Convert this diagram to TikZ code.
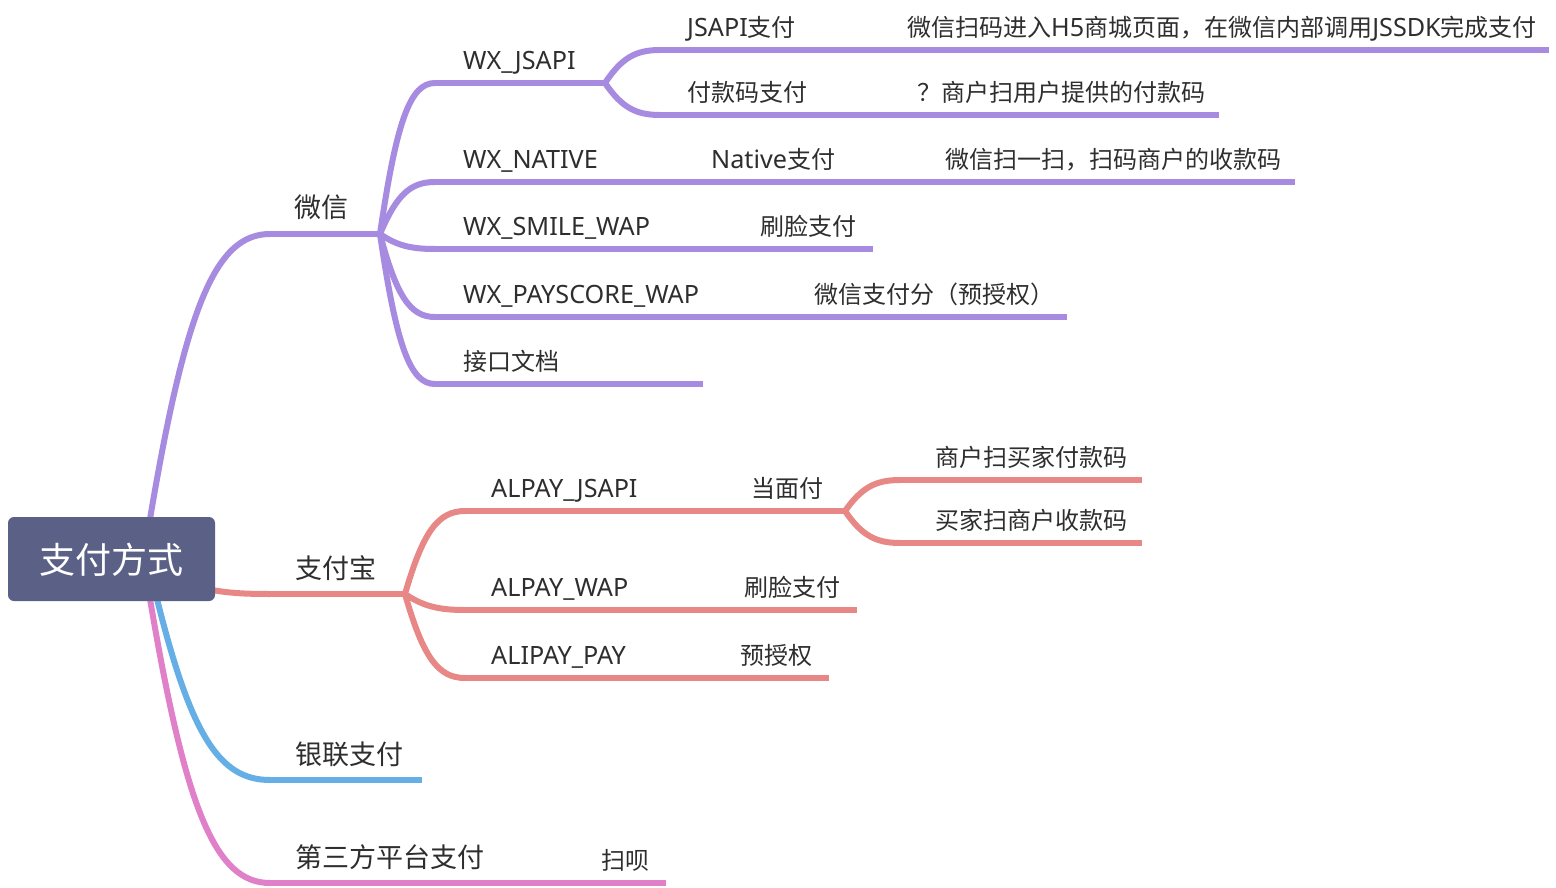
\documentclass[tikz,border=0pt]{standalone}
\usepackage{fontspec}
\setmainfont{Noto Sans CJK SC}
\newfontfamily\lat[Scale=1.05]{Noto Sans}
\usetikzlibrary{calc}
\definecolor{purp}{HTML}{A78BE0}
\definecolor{redl}{HTML}{E88886}
\definecolor{bluel}{HTML}{66AEE6}
\definecolor{pinkl}{HTML}{DF80C8}
\definecolor{rootc}{HTML}{5A6086}
\definecolor{txt}{HTML}{2E2E2E}
\newcommand\mmlink[3]{\draw[link,#3] let \p1=(#1),\p2=(#2) in (#1) .. controls ({\x1+0.3*(\x2-\x1)},{\y1+0.75*(\y2-\y1)}) and ({\x1+0.55*(\x2-\x1)},\y2) .. (#2);}
\newcommand\topic[8]{%
  \coordinate (#1L) at (#2,#4);
  \coordinate (#1R) at (#3,#4);
  \node[#7] (#1) at (#5,#4-13.5) {#8};
  \draw[link,#6] (#1L) -- (#1R);}
\begin{document}
\begin{tikzpicture}[x=1pt,y=-1pt,
  link/.style={line width=6pt, line cap=butt},
  tone/.style={font=\fontsize{27}{32}\selectfont, text=txt, inner sep=0pt, anchor=base west, yshift=2.5pt},
  ttwo/.style={font=\fontsize{24}{28}\selectfont, text=txt, inner sep=0pt, anchor=base west},
  rootbox/.style={fill=rootc, rounded corners=6pt, inner sep=0pt},
  roottext/.style={font=\fontsize{36}{40}\selectfont, text=white, inner sep=0pt}]
\useasboundingbox (0,0) rectangle (1556,888);
\fill[white] (0,0) rectangle (1556,888);
% root anchor points
\coordinate (rootT) at (150,519);
\coordinate (rootRt) at (212,590);
\coordinate (rootBa) at (157,599);
\coordinate (rootBb) at (150,599);
% level 1
\topic{wx}{270}{380}{234}{294}{purp}{tone}{微信}
\topic{ali}{270}{405}{594}{295}{redl}{tone}{支付宝}
\topic{yl}{270}{422}{780}{295}{bluel}{tone}{银联支付}
\topic{dsf}{270}{505}{883}{295}{pinkl}{tone}{第三方平台支付}
\topic{sb}{505}{666}{883}{601}{pinkl}{ttwo}{扫呗}
\mmlink{rootT}{wxL}{purp}
\mmlink{rootRt}{aliL}{redl}
\mmlink{rootBa}{ylL}{bluel}
\mmlink{rootBb}{dsfL}{pinkl}
% WeChat branch
\topic{wxj}{435}{605}{83}{463}{purp}{ttwo}{\lat WX\_JSAPI}
\topic{jsz}{660}{810}{50}{687}{purp}{ttwo}{{\lat JSAPI}支付}
\topic{jszd}{810}{1549}{50}{907}{purp}{ttwo}{微信扫码进入{\lat H5}商城页面，在微信内部调用{\lat JSSDK}完成支付}
\topic{fkm}{660}{820}{115}{687}{purp}{ttwo}{付款码支付}
\topic{fkmd}{820}{1219}{115}{917}{purp}{ttwo}{？商户扫用户提供的付款码}
\topic{wxn}{435}{616}{182}{463}{purp}{ttwo}{\lat WX\_NATIVE}
\topic{nat}{616}{850}{182}{711}{purp}{ttwo}{{\lat Native}支付}
\topic{natd}{850}{1295}{182}{945}{purp}{ttwo}{微信扫一扫，扫码商户的收款码}
\topic{wxs}{435}{668}{249}{463}{purp}{ttwo}{\lat WX\_SMILE\_WAP}
\topic{wxsl}{668}{873}{249}{760}{purp}{ttwo}{刷脸支付}
\topic{wxp}{435}{718}{317}{463}{purp}{ttwo}{\lat WX\_PAYSCORE\_WAP}
\topic{wxpf}{718}{1067}{317}{814}{purp}{ttwo}{微信支付分（预授权）}
\topic{jk}{435}{703}{384}{463}{purp}{ttwo}{接口文档}
\mmlink{wxR}{wxjL}{purp}
\mmlink{wxR}{wxnL}{purp}
\mmlink{wxR}{wxsL}{purp}
\mmlink{wxR}{wxpL}{purp}
\mmlink{wxR}{jkL}{purp}
\mmlink{wxjR}{jszL}{purp}
\mmlink{wxjR}{fkmL}{purp}
% Alipay branch
\topic{aj}{465}{655}{511}{491}{redl}{ttwo}{\lat ALPAY\_JSAPI}
\topic{dmf}{655}{845}{511}{751}{redl}{ttwo}{当面付}
\topic{shs}{900}{1142}{480}{935}{redl}{ttwo}{商户扫买家付款码}
\topic{mjs}{900}{1142}{543}{935}{redl}{ttwo}{买家扫商户收款码}
\topic{aw}{465}{653}{610}{491}{redl}{ttwo}{\lat ALPAY\_WAP}
\topic{awl}{653}{857}{610}{744}{redl}{ttwo}{刷脸支付}
\topic{ap}{465}{645}{678}{491}{redl}{ttwo}{\lat ALIPAY\_PAY}
\topic{apy}{645}{829}{678}{740}{redl}{ttwo}{预授权}
\mmlink{aliR}{ajL}{redl}
\mmlink{aliR}{awL}{redl}
\mmlink{aliR}{apL}{redl}
\mmlink{dmfR}{shsL}{redl}
\mmlink{dmfR}{mjsL}{redl}
% root
\path[rootbox] (8,517) rectangle (215,601);
\node[roottext] (root) at (111,560) {支付方式};
\end{tikzpicture}
\end{document}
